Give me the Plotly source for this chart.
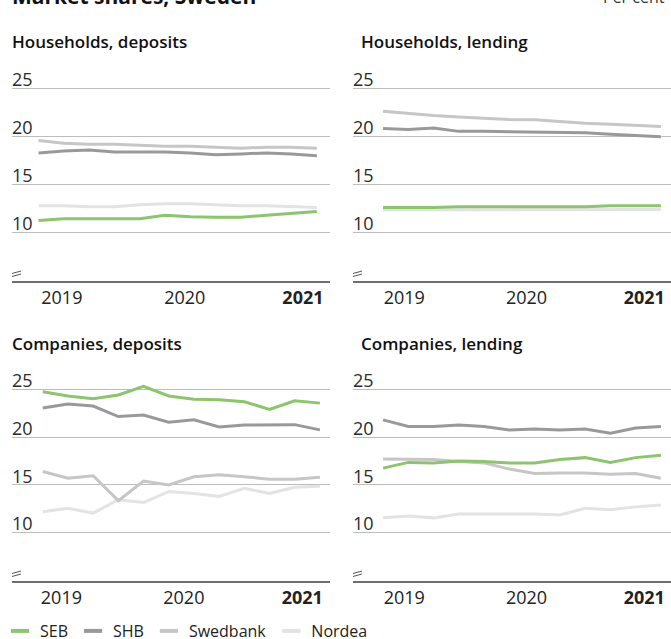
import plotly.graph_objects as go

# Quarterly observations, 12 per panel
periods = list(range(12))

banks = ["SEB", "SHB", "Swedbank", "Nordea"]
colors = {"SEB": "#8dc46e", "SHB": "#999999", "Swedbank": "#c6c6c6", "Nordea": "#e3e3e3"}

# Households, deposits (per cent)
hh_dep_seb = [11.25, 11.45, 11.45, 11.45, 11.45, 11.8, 11.65, 11.6, 11.6, 11.8, 12.0, 12.2]
hh_dep_shb = [18.3, 18.5, 18.6, 18.4, 18.4, 18.4, 18.3, 18.1, 18.2, 18.3, 18.2, 18.0]
hh_dep_swed = [19.6, 19.3, 19.2, 19.2, 19.1, 19.0, 19.0, 18.9, 18.8, 18.9, 18.9, 18.8]
hh_dep_nordea = [12.8, 12.8, 12.7, 12.7, 12.9, 13.0, 13.0, 12.9, 12.8, 12.8, 12.7, 12.6]

# Households, lending (per cent)
hh_len_seb = [12.6, 12.6, 12.6, 12.7, 12.7, 12.7, 12.7, 12.7, 12.7, 12.8, 12.8, 12.8]
hh_len_shb = [20.85, 20.75, 20.9, 20.55, 20.55, 20.5, 20.5, 20.4, 20.4, 20.25, 20.15, 20.0]
hh_len_swed = [22.65, 22.4, 22.2, 22.05, 21.9, 21.8, 21.75, 21.55, 21.4, 21.3, 21.2, 21.05]
hh_len_nordea = [12.35, 12.35, 12.35, 12.35, 12.35, 12.35, 12.35, 12.35, 12.35, 12.4, 12.4, 12.4]

# Companies, deposits (per cent)
co_dep_seb = [24.75, 24.3, 24.0, 24.4, 25.3, 24.3, 23.95, 23.9, 23.7, 22.9, 23.8, 23.55]
co_dep_shb = [23.05, 23.45, 23.25, 22.15, 22.3, 21.55, 21.8, 21.05, 21.25, 21.25, 21.3, 20.75]
co_dep_swed = [16.4, 15.7, 15.95, 13.35, 15.4, 15.0, 15.85, 16.05, 15.85, 15.6, 15.6, 15.8]
co_dep_nordea = [12.2, 12.55, 12.05, 13.45, 13.15, 14.3, 14.1, 13.8, 14.65, 14.1, 14.75, 14.85]

# Companies, lending (per cent)
co_len_seb = [16.75, 17.35, 17.3, 17.5, 17.45, 17.3, 17.3, 17.65, 17.85, 17.35, 17.85, 18.1]
co_len_shb = [21.8, 21.1, 21.1, 21.25, 21.1, 20.75, 20.85, 20.75, 20.85, 20.4, 20.95, 21.1]
co_len_swed = [17.7, 17.65, 17.65, 17.45, 17.3, 16.65, 16.2, 16.25, 16.25, 16.1, 16.2, 15.7]
co_len_nordea = [11.55, 11.75, 11.55, 11.95, 11.95, 11.95, 11.95, 11.85, 12.55, 12.4, 12.7, 12.9]

panel_titles = ["Households, deposits", "Households, lending",
                "Companies, deposits", "Companies, lending"]
year_labels = ["2019", "2020", "<b>2021</b>"]
y_ticks = [10, 15, 20, 25]

panels = [
    {"SEB": hh_dep_seb, "SHB": hh_dep_shb, "Swedbank": hh_dep_swed, "Nordea": hh_dep_nordea},
    {"SEB": hh_len_seb, "SHB": hh_len_shb, "Swedbank": hh_len_swed, "Nordea": hh_len_nordea},
    {"SEB": co_dep_seb, "SHB": co_dep_shb, "Swedbank": co_dep_swed, "Nordea": co_dep_nordea},
    {"SEB": co_len_seb, "SHB": co_len_shb, "Swedbank": co_len_swed, "Nordea": co_len_nordea},
]

W, H = 671, 639
FONT = "Open Sans"


def px_x(p):
    return p / W


def px_y(p):
    return 1 - p / H


x_domains = [[px_x(12), px_x(330)], [px_x(353), 1.0]] * 2
y_domains = [[px_y(280.5), px_y(79.1)]] * 2 + [[px_y(580.5), px_y(379.7)]] * 2
x_ranges = [[-1.05, 11.52], [-1.19, 11.4], [-1.22, 11.4], [-1.19, 11.4]]
x_tickpos = [[0.92, 5.78, 10.45], [0.84, 5.68, 10.34], [0.74, 5.6, 10.3], [0.84, 5.68, 10.34]]

fig = go.Figure()
draw_order = ["Nordea", "Swedbank", "SHB", "SEB"]

for i, data in enumerate(panels):
    xa = "x" if i == 0 else f"x{i + 1}"
    ya = "y" if i == 0 else f"y{i + 1}"
    for bank in draw_order:
        fig.add_trace(go.Scatter(
            x=periods, y=data[bank], mode="lines",
            line=dict(color=colors[bank], width=3),
            xaxis=xa, yaxis=ya, showlegend=False, hoverinfo="skip",
        ))

# Legend entries with short line swatches
for bank in banks:
    fig.add_trace(go.Scatter(
        x=[None], y=[None], mode="markers", name=bank,
        marker=dict(symbol="line-ew-open", size=13, color=colors[bank],
                    line=dict(color=colors[bank], width=4)),
        showlegend=True,
    ))

layout = dict(
    width=W, height=H,
    margin=dict(l=0, r=0, t=0, b=0, autoexpand=False),
    paper_bgcolor="white", plot_bgcolor="white",
    font=dict(family=FONT, color="#222222"),
    showlegend=True,
    legend=dict(orientation="h", x=0, xanchor="left", y=px_y(631), yanchor="middle",
                font=dict(family=FONT, size=16, color="#222222"),
                itemwidth=30, traceorder="normal", bgcolor="rgba(0,0,0,0)"),
)

for i in range(4):
    xkey = "xaxis" if i == 0 else f"xaxis{i + 1}"
    ykey = "yaxis" if i == 0 else f"yaxis{i + 1}"
    xa = "x" if i == 0 else f"x{i + 1}"
    ya = "y" if i == 0 else f"y{i + 1}"
    layout[xkey] = dict(
        domain=x_domains[i], range=x_ranges[i], anchor=ya,
        tickvals=x_tickpos[i], ticktext=year_labels,
        showgrid=False, zeroline=False, showline=True,
        linecolor="#6e6e6e", linewidth=1.5, ticks="",
        tickfont=dict(family=FONT, size=18, color="#222222"),
        fixedrange=True, automargin=False,
    )
    layout[ykey] = dict(
        domain=y_domains[i], range=[5, 26], anchor=xa,
        tickvals=y_ticks, showgrid=True, gridcolor="#bdbdbd", gridwidth=1,
        zeroline=False, showline=False, ticks="",
        ticklabelposition="inside top", ticklabeloverflow="allow",
        ticklabelstandoff=-3, ticklabelshift=4,
        tickfont=dict(family=FONT, size=18, color="#2b2b2b"),
        fixedrange=True, automargin=False,
    )

fig.update_layout(**layout)

# Panel headings
title_pos = [(10, 41), (359, 41), (10, 343), (359, 343)]
for (tx, ty), text in zip(title_pos, panel_titles):
    fig.add_annotation(
        x=px_x(tx), y=px_y(ty), xref="paper", yref="paper",
        xanchor="left", yanchor="middle", showarrow=False,
        text=text, font=dict(family=FONT, size=17, color="#111111", weight=600),
    )

# Chart heading and unit
fig.add_annotation(
    x=px_x(10), y=px_y(-4), xref="paper", yref="paper",
    xanchor="left", yanchor="middle", showarrow=False,
    text="<b>Market shares, Sweden</b>",
    font=dict(family=FONT, size=21, color="#111111"),
)
fig.add_annotation(
    x=px_x(667), y=px_y(-3), xref="paper", yref="paper",
    xanchor="right", yanchor="middle", showarrow=False,
    text="Per cent", font=dict(family=FONT, size=16, color="#333333"),
)

# Axis break marks at the foot of each value axis
for i in range(4):
    xa = "x" if i == 0 else f"x{i + 1}"
    ya = "y" if i == 0 else f"y{i + 1}"
    for off in (4, 7):
        fig.add_shape(
            type="line", xref=f"{xa} domain", yref=ya,
            xsizemode="pixel", xanchor=0, x0=0, x1=9,
            ysizemode="pixel", yanchor=5, y0=off, y1=off + 2.5,
            line=dict(color="#555555", width=1),
        )

fig.write_html("out.html")
